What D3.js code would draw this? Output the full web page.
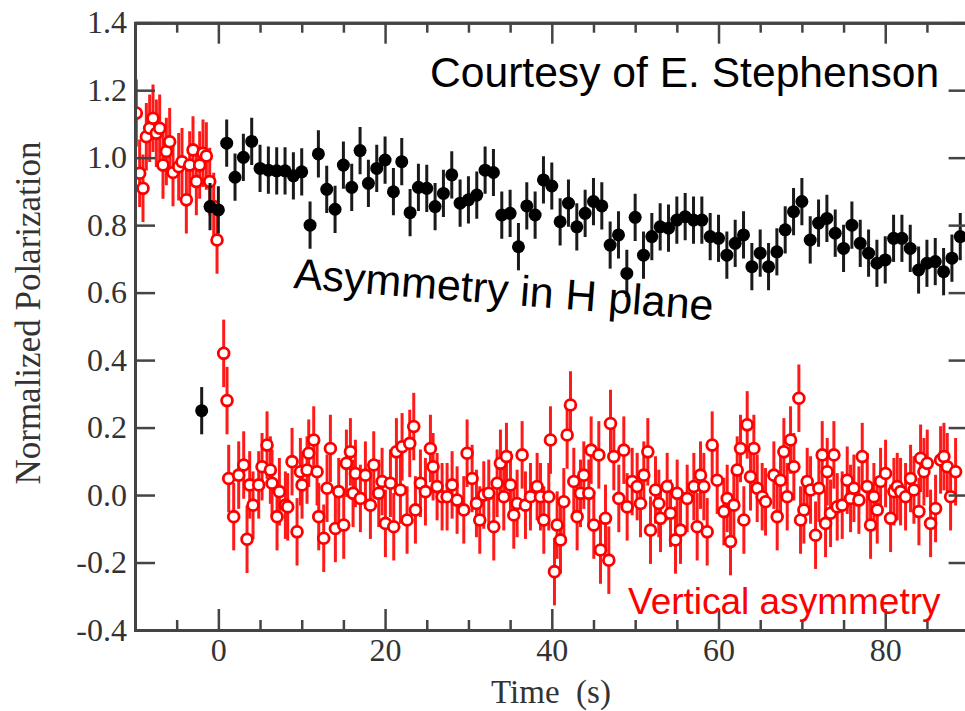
<!DOCTYPE html>
<html>
<head>
<meta charset="utf-8">
<script src="https://cdn.jsdelivr.net/npm/d3@7"></script>
<style>
  body { margin: 0; background: #fff; }
  svg { display: block; }
</style>
</head>
<body>
<svg id="svg" width="965" height="711"></svg>
<script>
// horizontal-plane asymmetry (black, filled)
const blackPts = [
  [-2,0.25],[-1,0.855],[0,0.845],[1,1.043],[2,0.942],[3,1.001],[4,1.048],[5,0.968],[6,0.963],[7,0.961],
  [8,0.961],[9,0.946],[10,0.958],[11,0.800],[12,1.011],[13,0.906],[14,0.847],[15,0.978],[16,0.912],[17,1.021],
  [18,0.924],[19,0.968],[20,0.993],[21,0.899],[22,0.988],[23,0.837],[24,0.912],[25,0.909],[26,0.855],[27,0.894],
  [28,0.949],[29,0.865],[30,0.875],[31,0.889],[32,0.963],[33,0.956],[34,0.830],[35,0.835],[36,0.736],[37,0.857],
  [38,0.830],[39,0.934],[40,0.916],[41,0.810],[42,0.865],[43,0.795],[44,0.835],[45,0.870],[46,0.857],[47,0.741],
  [48,0.771],[49,0.657],[50,0.823],[51,0.711],[52,0.766],[53,0.795],[54,0.791],[55,0.815],[56,0.825],[57,0.815],
  [58,0.815],[59,0.766],[60,0.761],[61,0.711],[62,0.746],[63,0.771],[64,0.677],[65,0.717],[66,0.677],[67,0.721],
  [68,0.786],[69,0.840],[70,0.870],[71,0.756],[72,0.806],[73,0.820],[74,0.776],[75,0.731],[76,0.800],[77,0.746],
  [78,0.717],[79,0.687],[80,0.697],[81,0.761],[82,0.761],[83,0.731],[84,0.667],[85,0.687],[86,0.692],[87,0.662],
  [88,0.702],[89,0.766]
];

// vertical asymmetry (red, open)
const redPts = [
  [-9.84,1.132],[-9.44,0.954],[-9.04,0.909],[-8.64,1.062],[-8.24,1.087],[-7.84,1.117],[-7.44,1.072],[-7.04,1.087],
  [-6.64,0.978],[-6.24,1.018],[-5.84,1.047],[-5.44,0.956],[-4.76,0.973],[-4.36,0.988],[-3.84,0.875],[-3.44,0.978],
  [-3.04,1.023],[-2.64,0.929],[-2.24,0.978],[-1.84,1.013],[-1.44,1.005],[-1.04,0.929],[-0.56,0.855],[-0.16,0.756],
  [0.64,0.42],[1.04,0.28],[1.24,0.049],[1.84,-0.064],[2.44,0.059],[3.04,0.089],[3.44,-0.131],[3.76,0.030],
  [4.16,-0.030],[4.84,0.030],[5.24,0.084],[5.84,0.148],[6.24,0.074],[6.44,0.035],[7.04,-0.064],[7.32,0.010],
  [8.04,-0.030],[8.32,-0.035],[8.84,0.099],[9.44,-0.109],[9.84,0.069],[10.04,0.030],[10.64,0.074],[10.84,0.124],
  [11.44,0.163],[11.84,0.069],[12.04,-0.064],[12.64,-0.128],[13.04,0.020],[13.44,0.138],[14.04,-0.099],[14.44,0.010],
  [15.04,-0.089],[15.36,0.094],[15.84,0.128],[16.16,0.005],[16.44,0.064],[17.04,-0.010],[17.64,0.059],[18.24,-0.030],
  [18.64,0.089],[19.24,0.005],[19.64,0.040],[20.04,-0.084],[20.64,0.035],[21.04,-0.094],[21.36,0.128],[21.84,0.015],
  [22.04,0.143],[22.64,-0.074],[22.96,0.153],[23.44,0.203],[23.64,-0.044],[24.24,0.035],[24.84,0.010],[25.44,0.138],
  [25.76,0.084],[26.24,0.025],[26.84,-0.005],[27.44,-0.005],[28.04,0.030],[28.64,-0.015],[29.44,-0.044],[29.84,0.124],
  [30.44,0.049],[30.96,-0.025],[31.36,-0.074],[31.84,0.000],[32.44,0.005],[33.04,-0.094],[33.44,0.035],[33.84,0.094],
  [34.24,-0.005],[34.56,0.114],[35.04,0.030],[35.44,-0.059],[35.84,-0.025],[36.44,0.119],[36.84,-0.030],[37.44,-0.005],
  [38.24,0.025],[38.64,-0.005],[39.04,-0.074],[39.64,-0.005],[39.84,0.163],[40.32,-0.227],[40.64,-0.089],[41.04,-0.133],
  [41.44,-0.020],[41.84,0.178],[42.24,0.267],[42.64,0.040],[43.04,-0.064],[43.44,0.005],[43.84,0.059],[44.44,0.005],
  [44.72,0.133],[45.04,-0.089],[45.64,0.119],[45.84,-0.163],[46.44,-0.069],[46.84,-0.193],[47.04,0.212],[47.44,0.114],
  [48.04,-0.010],[48.64,0.133],[49.04,-0.035],[49.64,0.040],[50.24,0.025],[50.64,-0.025],[51.04,0.059],[51.52,0.128],
  [51.84,-0.104],[52.44,0.015],[52.84,-0.025],[53.04,-0.069],[53.84,0.025],[54.24,-0.054],[54.84,-0.133],[55.04,0.005],
  [55.44,-0.104],[56.24,-0.010],[57.04,0.025],[57.44,-0.094],[57.84,0.059],[58.24,0.025],[58.64,-0.109],[59.24,0.148],
  [59.84,0.044],[60.64,-0.049],[61.04,-0.010],[61.44,-0.138],[61.84,-0.030],[62.24,0.074],[62.64,0.138],[63.04,-0.074],
  [63.44,0.208],[63.84,0.054],[64.24,0.138],[64.64,0.020],[65.24,-0.005],[65.64,-0.020],[66.64,0.059],[67.04,-0.064],
  [67.44,0.044],[67.84,0.128],[68.24,-0.005],[68.64,0.163],[69.04,0.084],[69.64,0.287],[69.84,-0.074],[70.24,-0.044],
  [70.64,0.040],[71.04,0.015],[71.64,-0.119],[72.04,0.020],[72.44,0.119],[72.84,-0.084],[73.04,0.069],[73.44,-0.054],
  [73.84,0.119],[74.24,-0.035],[74.84,-0.030],[75.44,0.044],[75.84,-0.010],[76.24,0.020],[76.84,-0.015],[77.24,0.114],
  [77.84,0.025],[78.24,-0.089],[78.64,-0.005],[79.04,-0.044],[79.44,0.040],[80.04,0.064],[80.64,-0.069],[81.04,0.010],
  [81.44,0.025],[81.84,0.010],[82.44,-0.005],[83.04,0.049],[83.44,0.015],[84.04,-0.049],[84.24,0.109],[84.64,0.069],
  [85.04,0.094],[85.44,-0.084],[86.04,-0.040],[86.64,0.104],[87.04,0.114],[87.44,0.084],[87.84,-0.005],[88.44,0.069]
];

const blackErr = 0.07,
    redErr = 0.1;

const xMajor = [0, 20, 40, 60, 80],
    xMinor = [-5, 5, 10, 15, 25, 30, 35, 45, 50, 55, 65, 70, 75, 85],
    yTicks = [-0.4, -0.2, 0.0, 0.2, 0.4, 0.6, 0.8, 1.0, 1.2, 1.4];

const svg = d3.select("#svg"),
    plotL = 135,
    plotR = 968.6,
    plotT = 22.7,
    plotB = 630;

const x = d3.scaleLinear().domain([-10, 90]).range([plotL, plotR]),
    y = d3.scaleLinear().domain([-0.4, 1.4]).range([plotB, plotT]);

const fmtY = d => d3.format(".1f")(d).replace("\u2212", "-");

svg.append("rect").attr("width", 965).attr("height", 711).attr("fill", "#fff");

svg.append("clipPath").attr("id", "plotclip")
    .append("rect").attr("x", plotL).attr("y", plotT).attr("width", plotR - plotL).attr("height", plotB - plotT);

const plot = svg.append("g").attr("clip-path", "url(#plotclip)");

// red series: bars then open circles
const red = plot.append("g");
red.selectAll("line").data(redPts).join("line")
    .attr("x1", d => x(d[0])).attr("x2", d => x(d[0]))
    .attr("y1", d => y(d[1] - redErr)).attr("y2", d => y(d[1] + redErr))
    .attr("stroke", "#ff1a1a").attr("stroke-width", 3);
red.selectAll("circle").data(redPts).join("circle")
    .attr("cx", d => x(d[0])).attr("cy", d => y(d[1])).attr("r", 5.4)
    .attr("fill", "#fff").attr("stroke", "#ff0000").attr("stroke-width", 2.8);

// black series on top
const blk = plot.append("g");
blk.selectAll("line").data(blackPts).join("line")
    .attr("x1", d => x(d[0])).attr("x2", d => x(d[0]))
    .attr("y1", d => y(d[1] - blackErr)).attr("y2", d => y(d[1] + blackErr))
    .attr("stroke", "#1a1a1a").attr("stroke-width", 3);
blk.selectAll("circle").data(blackPts).join("circle")
    .attr("cx", d => x(d[0])).attr("cy", d => y(d[1])).attr("r", 6.5)
    .attr("fill", "#000");

// axes, xmgrace style: ticks inward on all four sides
function styleAxis(g) {
    g.selectAll("path").attr("stroke", "#444").attr("stroke-width", 3);
    g.selectAll("line").attr("stroke", "#444").attr("stroke-width", 2.5);
    g.selectAll("text").attr("fill", "#333")
        .style("font-family", "'Liberation Serif', 'DejaVu Serif', serif").style("font-size", "32px");
}

svg.append("g").attr("transform", "translate(0," + plotB + ")")
    .call(d3.axisBottom(x).tickValues(xMinor).tickSize(-10).tickFormat("")).call(styleAxis);
svg.append("g").attr("transform", "translate(0," + plotB + ")")
    .call(d3.axisBottom(x).tickValues(xMajor).tickSize(-21).tickSizeOuter(0).tickPadding(8).tickFormat(d3.format("d")))
    .call(styleAxis);

svg.append("g").attr("transform", "translate(0," + plotT + ")")
    .call(d3.axisTop(x).tickValues(xMinor).tickSize(-10).tickFormat("")).call(styleAxis);
svg.append("g").attr("transform", "translate(0," + plotT + ")")
    .call(d3.axisTop(x).tickValues(xMajor).tickSize(-21).tickSizeOuter(0).tickFormat("")).call(styleAxis);

svg.append("g").attr("transform", "translate(" + plotL + ",0)")
    .call(d3.axisLeft(y).tickValues(yTicks).tickSize(-20).tickSizeOuter(0).tickPadding(8).tickFormat(fmtY))
    .call(styleAxis);
svg.append("g").attr("transform", "translate(" + plotR + ",0)")
    .call(d3.axisRight(y).tickValues(yTicks).tickSize(-20).tickSizeOuter(0).tickFormat(""))
    .call(styleAxis);

// axis titles
svg.append("text")
    .attr("x", 551).attr("y", 703)
    .attr("text-anchor", "middle")
    .style("white-space", "pre")
    .style("font-family", "'Liberation Serif', serif").style("font-size", "33px")
    .attr("fill", "#333")
    .text("Time  (s)");

svg.append("text")
    .attr("transform", "translate(40,313) rotate(-90)")
    .attr("text-anchor", "middle")
    .style("font-family", "'Liberation Serif', serif").style("font-size", "35px")
    .attr("fill", "#333")
    .text("Normalized Polarization");

// annotations
const sans = "'Liberation Sans', Arial, sans-serif";
svg.append("text")
    .attr("x", 430).attr("y", 87)
    .style("font-family", sans).style("font-size", "42.6px")
    .attr("fill", "#000")
    .text("Courtesy of E. Stephenson");

svg.append("text")
    .attr("transform", "translate(293,288) rotate(4.4)")
    .style("font-family", sans).style("font-size", "43px")
    .attr("fill", "#000")
    .text("Asymmetry in H plane");

svg.append("text")
    .attr("x", 628).attr("y", 614)
    .style("font-family", sans).style("font-size", "37px")
    .attr("fill", "#ff0000")
    .text("Vertical asymmetry");
</script>
</body>
</html>
